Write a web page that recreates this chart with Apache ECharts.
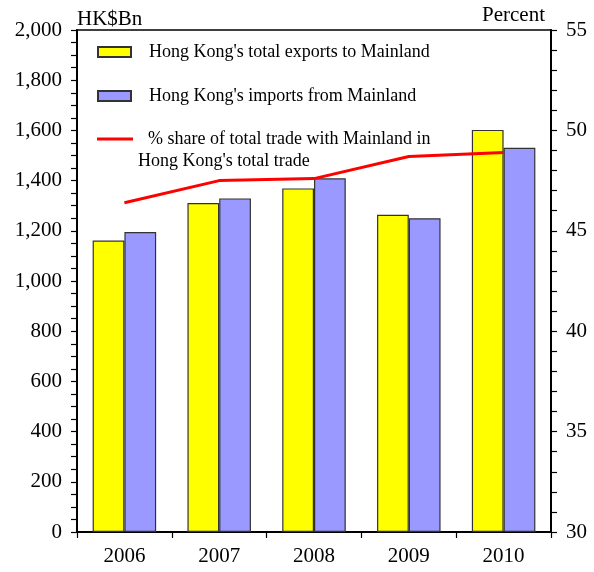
<!DOCTYPE html>
<html>
<head>
<meta charset="utf-8">
<script src="https://cdn.jsdelivr.net/npm/echarts@6/dist/echarts.min.js"></script>
<style>
  html, body { margin: 0; padding: 0; background: #fff; }
  #chart { width: 594px; height: 572px; }
</style>
</head>
<body>
<div id="chart"></div>
<script>
// Hong Kong trade with the Mainland, 2006-2010
const years = ['2006', '2007', '2008', '2009', '2010'];
const exportsToMainland = [1161, 1311, 1369, 1264, 1602];   // HK$Bn
const importsFromMainland = [1195, 1329, 1409, 1250, 1531]; // HK$Bn
const shareOfTotalTrade = [46.4, 47.5, 47.6, 48.7, 48.9];   // percent

const exportsName = "Hong Kong's total exports to Mainland";
const importsName = "Hong Kong's imports from Mainland";
const shareName = "% share of total trade with Mainland in Hong Kong's total trade";
const shareLine1 = '% share of total trade with Mainland in';
const shareLine2 = "Hong Kong's total trade";

const FONT = '"Liberation Serif", "Times New Roman", serif';

const chart = echarts.init(document.getElementById('chart'), null, { renderer: 'canvas' });

const tickCommon = { show: true, inside: false, length: 6, lineStyle: { color: '#000', width: 1.2 } };
const minorCommon = { show: true, length: 6, lineStyle: { color: '#000', width: 1.2 } };

chart.setOption({
  animation: false,
  backgroundColor: '#fff',
  textStyle: { fontFamily: FONT },
  grid: {
    left: 77, right: 43, top: 30, bottom: 40,
    show: true, borderColor: '#000', borderWidth: 1.5, backgroundColor: 'transparent'
  },
  legend: [
    {
      data: [exportsName, importsName],
      orient: 'vertical',
      left: 97, top: 43,
      padding: 0,
      icon: 'rect',
      itemWidth: 33, itemHeight: 10, itemGap: 26,
      selectedMode: false,
      textStyle: { fontFamily: FONT, fontSize: 18, color: '#000', padding: [0, 0, 0, 13] }
    },
    {
      data: [shareName],
      orient: 'vertical',
      left: 97, top: 108,
      padding: 0,
      icon: 'rect',
      itemWidth: 36, itemHeight: 3,
      selectedMode: false,
      formatter: () => '{e|}\n{a|' + shareLine1 + '}\n{b|' + shareLine2 + '}',
      textStyle: {
        fontFamily: FONT, fontSize: 18, color: '#000',
        rich: {
          e: { fontSize: 18, lineHeight: 22, fontFamily: FONT },
          a: { fontSize: 18, lineHeight: 22, fontFamily: FONT, color: '#000', padding: [0, 0, 0, 10] },
          b: { fontSize: 18, lineHeight: 22, fontFamily: FONT, color: '#000' }
        }
      }
    }
  ],
  xAxis: {
    type: 'category',
    data: years,
    boundaryGap: true,
    axisLine: { show: true, lineStyle: { color: '#000', width: 2 } },
    axisTick: Object.assign({ alignWithLabel: false }, tickCommon),
    axisLabel: { color: '#000', fontFamily: FONT, fontSize: 21, margin: 14 },
    splitLine: { show: false }
  },
  yAxis: [
    {
      type: 'value',
      min: 0, max: 2000, interval: 200,
      name: 'HK$Bn',
      nameLocation: 'end',
      nameGap: 0,
      nameTextStyle: { color: '#000', fontFamily: FONT, fontSize: 21, align: 'left' },
      axisLine: { show: true, lineStyle: { color: '#000', width: 2 } },
      axisTick: tickCommon,
      minorTick: Object.assign({ splitNumber: 4 }, minorCommon),
      axisLabel: {
        color: '#000', fontFamily: FONT, fontSize: 21, margin: 15,
        formatter: v => v.toLocaleString('en-US')
      },
      splitLine: { show: false }
    },
    {
      type: 'value',
      position: 'right',
      min: 30, max: 55, interval: 5,
      name: 'Percent',
      nameLocation: 'end',
      nameGap: 4,
      nameTextStyle: { color: '#000', fontFamily: FONT, fontSize: 21, align: 'right', padding: [0, 6, 0, 0] },
      axisLine: { show: true, lineStyle: { color: '#000', width: 2 } },
      axisTick: tickCommon,
      minorTick: Object.assign({ splitNumber: 5 }, minorCommon),
      axisLabel: { color: '#000', fontFamily: FONT, fontSize: 21, margin: 15 },
      splitLine: { show: false }
    }
  ],
  series: [
    {
      name: exportsName,
      type: 'bar',
      data: exportsToMainland,
      barGap: '0%',
      barCategoryGap: '33%',
      itemStyle: { color: '#FFFF00', borderColor: '#333', borderWidth: 1.2 }
    },
    {
      name: importsName,
      type: 'bar',
      data: importsFromMainland,
      itemStyle: { color: '#9999FF', borderColor: '#333', borderWidth: 1.2 }
    },
    {
      name: shareName,
      type: 'line',
      yAxisIndex: 1,
      data: shareOfTotalTrade,
      symbol: 'none',
      lineStyle: { color: '#FF0000', width: 3 },
      itemStyle: { color: '#FF0000', borderWidth: 0 },
      z: 5
    }
  ]
});
</script>
</body>
</html>
